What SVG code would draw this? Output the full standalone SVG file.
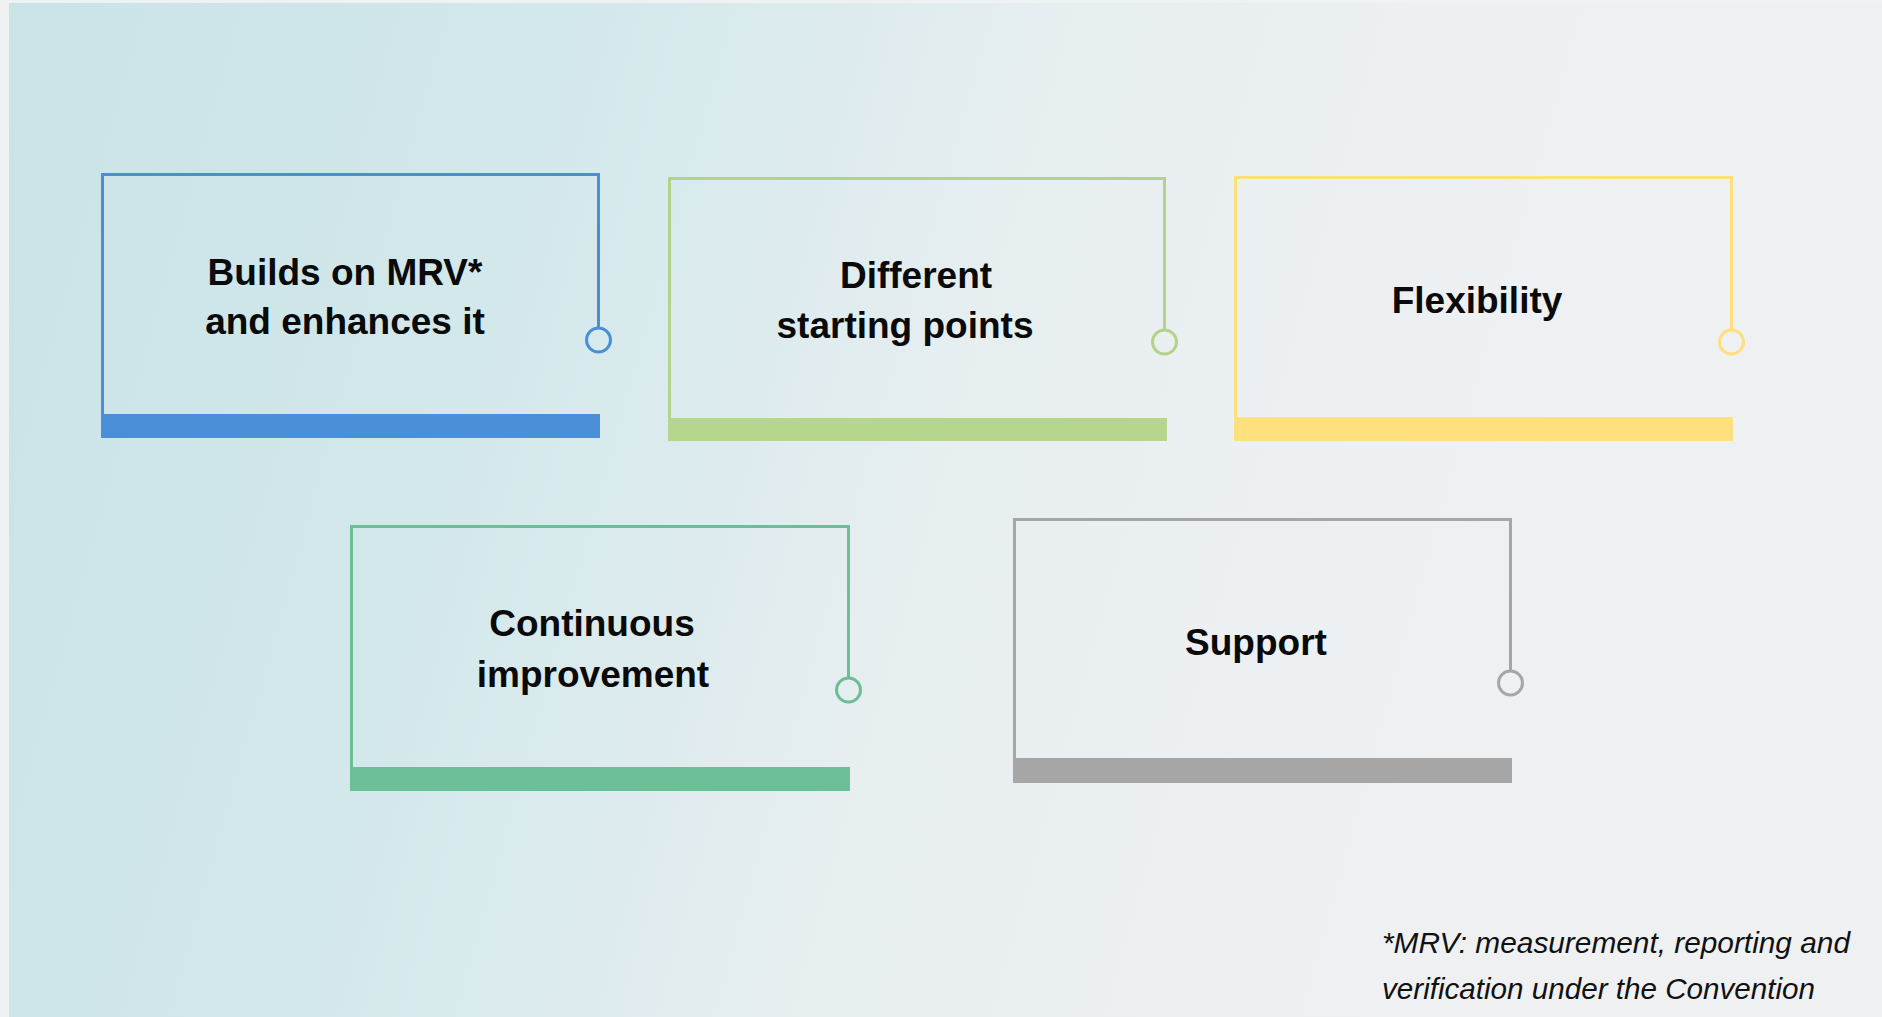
<svg xmlns="http://www.w3.org/2000/svg" width="1882" height="1017" viewBox="0 0 1882 1017">
<defs>
<linearGradient id="bg" x1="0" y1="0" x2="1" y2="0.15">
<stop offset="0" stop-color="#c9e3e7"/>
<stop offset="0.3" stop-color="#d3e8eb"/>
<stop offset="0.55" stop-color="#e6eef0"/>
<stop offset="0.75" stop-color="#edf0f2"/>
<stop offset="1" stop-color="#eff0f2"/>
</linearGradient>
<style>
.frame{fill:none;stroke-width:3}
.ring{fill:none;stroke-width:3}
.lbl{font-family:"Liberation Sans",Arial,sans-serif;font-weight:bold;font-size:37px;fill:#0a0a0a;text-anchor:middle}
.note{font-family:"Liberation Sans",Arial,sans-serif;font-style:italic;font-size:30px;fill:#111}
.blue{stroke:#4a8fd6}.blueF{fill:#4a8fd8}
.lime{stroke:#b3d38a}.limeF{fill:#b6d68e}
.yel{stroke:#fde07c}.yelF{fill:#ffe07e}
.teal{stroke:#6dbe97}.tealF{fill:#6dbf97}
.grey{stroke:#a6a6a6}.greyF{fill:#a6a6a6}
</style>
</defs>
<rect x="0" y="0" width="1882" height="1017" fill="#eef2f3"/>
<rect x="9" y="3" width="1873" height="1014" fill="url(#bg)"/>

<g id="node-mrv">
<path class="frame blue" d="M102.5,414 V174.5 H598.5 V328"/>
<circle class="ring blue" cx="598.5" cy="340" r="12"/>
<rect class="blueF" x="101" y="414" width="499" height="24"/>
<text class="lbl" x="345" y="285">Builds on MRV*</text>
<text class="lbl" x="345" y="334">and enhances it</text>
</g>

<g id="node-starting">
<path class="frame lime" d="M669.5,418 V178.5 H1164.5 V330"/>
<circle class="ring lime" cx="1164.5" cy="342" r="12"/>
<rect class="limeF" x="668" y="418" width="499" height="23"/>
<text class="lbl" x="916" y="288">Different</text>
<text class="lbl" x="905" y="338">starting points</text>
</g>

<g id="node-flexibility">
<path class="frame yel" d="M1235.5,417 V177.5 H1731.5 V330"/>
<circle class="ring yel" cx="1731.5" cy="342" r="12"/>
<rect class="yelF" x="1234" y="417" width="499" height="24"/>
<text class="lbl" x="1477" y="313">Flexibility</text>
</g>

<g id="node-continuous">
<path class="frame teal" d="M351.5,767 V526.5 H848.5 V678"/>
<circle class="ring teal" cx="848.5" cy="690" r="12"/>
<rect class="tealF" x="350" y="767" width="500" height="24"/>
<text class="lbl" x="592" y="636">Continuous</text>
<text class="lbl" x="593" y="687">improvement</text>
</g>

<g id="node-support">
<path class="frame grey" d="M1014.5,758 V519.5 H1510.5 V671"/>
<circle class="ring grey" cx="1510.5" cy="683" r="12"/>
<rect class="greyF" x="1013" y="758" width="499" height="25"/>
<text class="lbl" x="1256" y="655">Support</text>
</g>

<g id="connectors"/>

<g id="footnote">
<text class="note" x="1382" y="953" textLength="468" lengthAdjust="spacingAndGlyphs">*MRV: measurement, reporting and</text>
<text class="note" x="1382" y="999" textLength="433" lengthAdjust="spacingAndGlyphs">verification under the Convention</text>
</g>
</svg>
